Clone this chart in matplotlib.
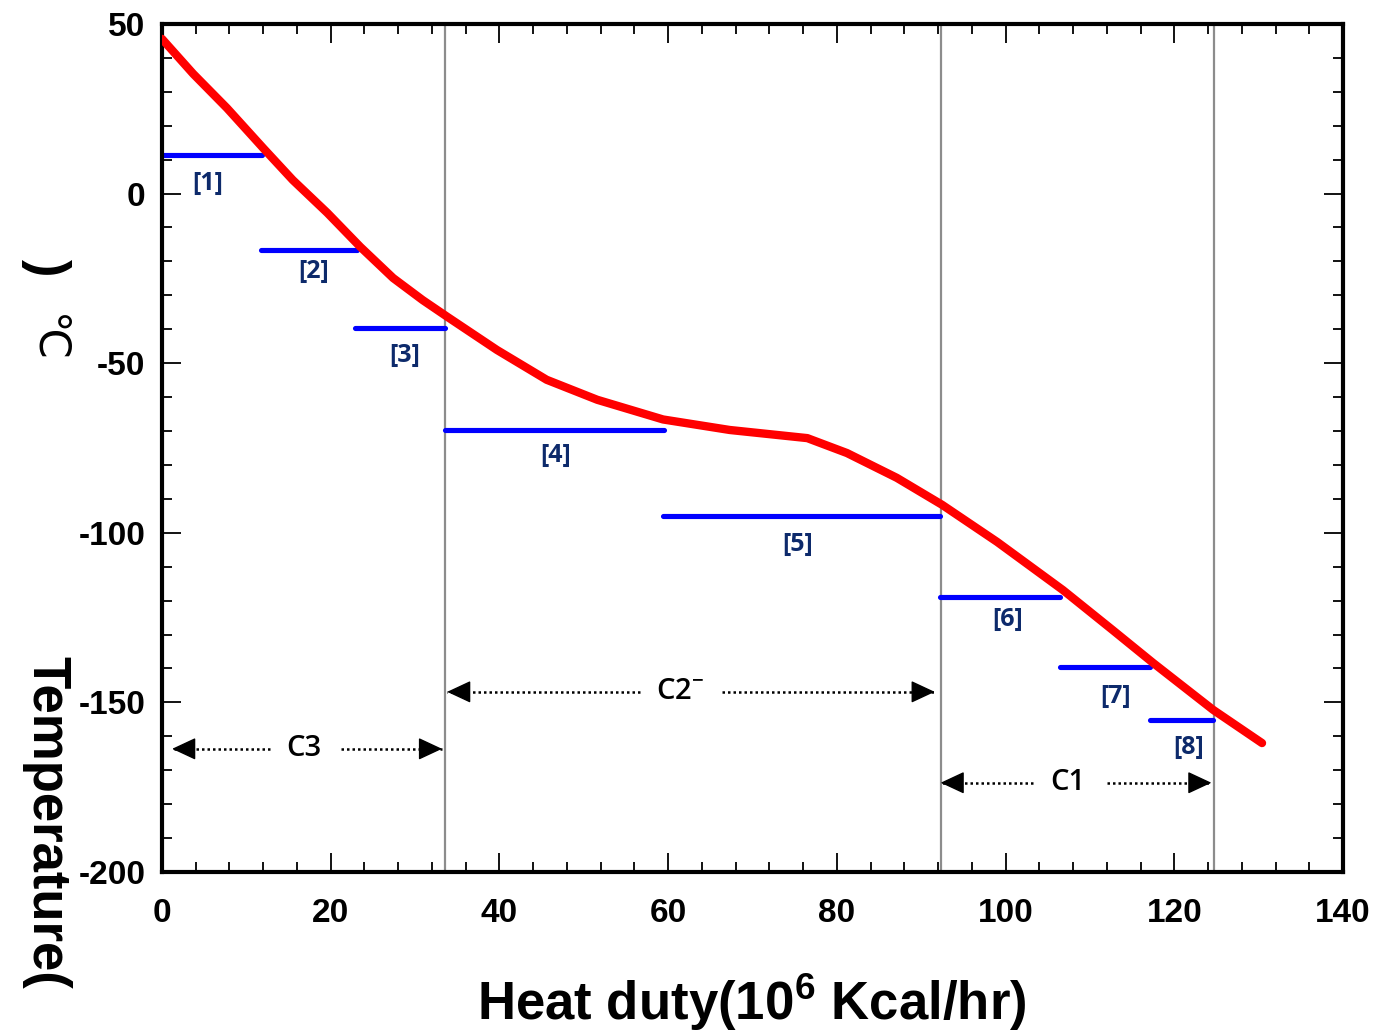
import matplotlib
matplotlib.use("Agg")
from matplotlib import pyplot as plt
from matplotlib.ticker import MultipleLocator

# curva caliente (rojo)
heat_x = [0, 3.7, 7.7, 12.0, 15.5, 19.6, 23.5, 27.4, 30.9, 33.8, 39.7, 45.6, 51.6, 59.4,
          67.3, 76.5, 81.2, 87.1, 92.5, 99.0, 106.8, 112.7, 117.5, 124.6, 130.4]
heat_y = [45.6, 35.3, 25.2, 13.4, 4.0, -5.7, -15.7, -24.9, -31.4, -36.3, -46.1, -54.9, -60.8, -66.6,
          -69.7, -72.1, -76.5, -83.8, -91.8, -102.7, -116.9, -128.7, -138.4, -152.2, -162.0]

# etapas de refrigerante (azul)
stage_names = ['[1]', '[2]', '[3]', '[4]', '[5]', '[6]', '[7]', '[8]']
stage_start = [0, 11.7, 22.9, 33.5, 59.4, 92.2, 106.4, 117.1]
stage_end = [11.9, 23.1, 33.5, 59.5, 92.2, 106.4, 117.1, 124.6]
stage_temp = [11.4, -16.6, -39.6, -69.7, -95.0, -118.9, -139.6, -155.2]
label_x = [5.45, 18.0, 28.8, 46.7, 75.3, 100.2, 113.0, 121.7]
label_y = [3.1, -23.1, -47.6, -77.1, -103.6, -125.7, -148.4, -163.4]

# ciclos
cycle_names = ['C3', 'C2$^{-}$', 'C1']
cycle_bounds = [(1.2, 33.2), (33.8, 91.6), (92.3, 124.4)]
cycle_gap = [(12.8, 21.2), (56.7, 66.4), (103.3, 112.0)]
cycle_y = [-163.7, -146.9, -173.7]
cycle_text_x = [16.8, 61.4, 107.4]
divisions = [33.5, 92.3, 124.7]

plt.rcParams['axes.unicode_minus'] = False
plt.rcParams['mathtext.fontset'] = 'custom'
plt.rcParams['mathtext.rm'] = 'Open Sans:semibold'
plt.rcParams['mathtext.bf'] = 'Liberation Sans:bold'

fig = plt.figure(figsize=(13.81, 10.33), dpi=100)
ax = fig.add_axes([0.1173, 0.1559, 0.8552, 0.8209])

for xv in divisions:
    ax.axvline(xv, color='#8c8c8c', lw=1.6, zorder=1)

for i in range(len(stage_names)):
    ax.plot([stage_start[i], stage_end[i]], [stage_temp[i], stage_temp[i]],
            color='#0000ff', lw=3.7, solid_capstyle='round', zorder=2)
    ax.text(label_x[i], label_y[i], stage_names[i], color='#0d2a6b',
            fontsize=18, fontfamily='Open Sans', fontweight='bold',
            ha='center', va='center')

ax.plot(heat_x, heat_y, color='#ff0000', lw=6, solid_capstyle='round',
        solid_joinstyle='round', zorder=4)

for i in range(len(cycle_names)):
    a, b = cycle_bounds[i]
    g1, g2 = cycle_gap[i]
    y = cycle_y[i]
    for start, end, off in [(g1, a, 14), (g2, b, -14)]:
        ax.plot([start, end], [y, y], color='black', lw=1.8, linestyle=(0, (1, 1.2)))
        ax.annotate('', xy=(end, y), xytext=(off, 0), textcoords='offset pixels',
                    arrowprops=dict(arrowstyle='-|>,head_length=0.75,head_width=0.35',
                                    lw=1, color='black', shrinkA=0, shrinkB=0,
                                    mutation_scale=20))
    ax.text(cycle_text_x[i], y, cycle_names[i], fontsize=21, fontfamily='Open Sans',
            fontweight='semibold', ha='center', va='center')

ax.set_xlim(0, 140)
ax.set_ylim(-200, 50)
ax.xaxis.set_major_locator(MultipleLocator(20))
ax.xaxis.set_minor_locator(MultipleLocator(4))
ax.yaxis.set_major_locator(MultipleLocator(50))
ax.yaxis.set_minor_locator(MultipleLocator(10))
ax.tick_params(which='both', direction='in', top=True, right=True, width=1.3)
ax.tick_params(which='major', length=14)
ax.tick_params(which='minor', length=7)
ax.tick_params(axis='x', which='major', pad=19)
ax.tick_params(axis='y', which='major', pad=12)
for lab in ax.get_xticklabels() + ax.get_yticklabels():
    lab.set_fontfamily('Liberation Sans')
    lab.set_fontweight('bold')
    lab.set_fontsize(24)
for sp in ax.spines.values():
    sp.set_linewidth(3)

fig.text(752 / 1381, 1 - 1020 / 1033, r'Heat duty(10$^{\mathbf{6}}$ Kcal/hr)',
         ha='center', va='baseline', fontfamily='Liberation Sans',
         fontweight='bold', fontsize=38)

# etiqueta del eje y, tal como aparece en la figura original
fig.text(46 / 1381, 1 - 822 / 1033, 'Temperature(', rotation=-90, ha='center', va='center',
         fontfamily='Liberation Sans', fontweight='bold', fontsize=38)
fig.text(47 / 1381, 1 - 338 / 1033, '℃', rotation=-90, ha='center', va='center',
         fontfamily='DejaVu Sans', fontsize=31)
fig.text(46 / 1381, 1 - 268 / 1033, ')', rotation=-90, ha='center', va='center',
         fontfamily='Liberation Sans', fontweight='bold', fontsize=38)

fig.savefig('out.png', dpi=100)
